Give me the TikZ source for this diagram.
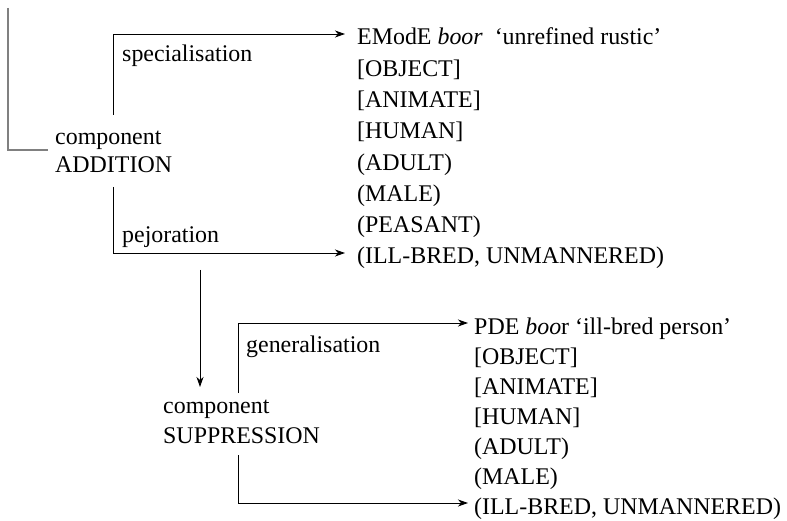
\documentclass[tikz,border=0pt]{standalone}
\usepackage{fontspec}
\setmainfont{Liberation Serif}
\usetikzlibrary{arrows.meta}
\begin{document}
\begin{tikzpicture}[x=1bp,y=-1bp,
  txt/.style={font=\fontsize{24}{28}\selectfont, inner sep=0pt, anchor=base west},
  row/.style={font=\fontsize{24}{28}\selectfont, inner sep=0pt, anchor=west, text height=22bp, text depth=0bp},
  conn/.style={line width=0.9bp, black},
  arr/.style={conn, -{Stealth[length=10bp,width=7bp,inset=3bp]}},
  frame/.style={line width=1.4bp, black!50}
]
\useasboundingbox (0,0) rectangle (787,521);

% left gray bracket
\coordinate (g0) at (8,8);
\coordinate (g1) at (48,150);
\draw[frame] (g0) |- (g1);

% ADDITION block
\node[txt] (a1) at (55,145) {component};
\node[txt] (a2) at (55,173) {ADDITION};

% first column
\node[row] (e0) at (357,34) {EModE \textit{boor}\ \ `unrefined rustic'};
\node[row] (e1) at (357,65.3) {[OBJECT]};
\node[row] (e2) at (357,96.6) {[ANIMATE]};
\node[row] (e3) at (357,127.9) {[HUMAN]};
\node[row] (e4) at (357,159.2) {(ADULT)};
\node[row] (e5) at (357,190.5) {(MALE)};
\node[row] (e6) at (357,221.8) {(PEASANT)};
\node[row] (e7) at (357,253) {(ILL-BRED, UNMANNERED)};

\coordinate (aup) at (113,115);
\coordinate (adn) at (113,187);
\draw[arr, shorten >=12bp] (aup) |- (e0.west);
\draw[arr, shorten >=12bp] (adn) |- (e7.west);
\node[txt] (l1) at (122,62) {specialisation};
\node[txt] (l2) at (122,243) {pejoration};

% down arrow
\coordinate (d0) at (200,270);
\coordinate (d1) at (200,387);
\draw[arr] (d0) -- (d1);

% SUPPRESSION block
\node[txt] (s1) at (163,413) {component};
\node[txt] (s2) at (163,443) {SUPPRESSION};

% second column
\node[row] (p0) at (474,323) {PDE \textit{boo}r `ill-bred person'};
\node[row] (p1) at (474,353) {[OBJECT]};
\node[row] (p2) at (474,383) {[ANIMATE]};
\node[row] (p3) at (474,413) {[HUMAN]};
\node[row] (p4) at (474,443) {(ADULT)};
\node[row] (p5) at (474,473) {(MALE)};
\node[row] (p6) at (474,503) {(ILL-BRED, UNMANNERED)};

\coordinate (sup) at (238,393);
\coordinate (sdn) at (238,455);
\draw[arr, shorten >=6bp] (sup) |- (p0.west);
\draw[arr, shorten >=6bp] (sdn) |- (p6.west);
\node[txt] (l3) at (246,352) {generalisation};
\end{tikzpicture}
\end{document}
